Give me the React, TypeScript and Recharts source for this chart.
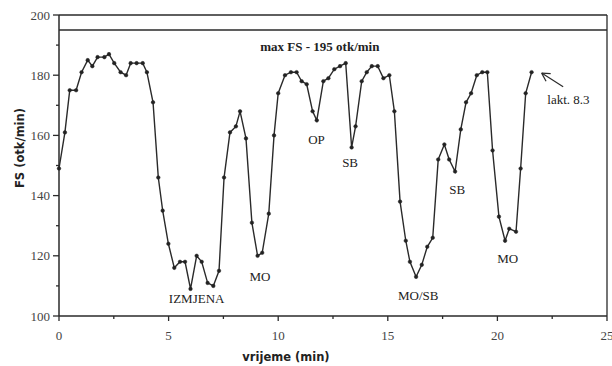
import {
  LineChart,
  Line,
  XAxis,
  YAxis,
  ReferenceLine,
  ReferenceDot,
} from "recharts";

// time (min) and heart rate FS (otk/min)
const TIME = [
  0, 0.27, 0.49, 0.78, 1.03, 1.31, 1.52, 1.76, 2.07, 2.28, 2.52, 2.81, 3.06,
  3.27, 3.54, 3.82, 4.01, 4.29, 4.53, 4.73, 4.99, 5.26, 5.52, 5.75, 6.0, 6.28,
  6.51, 6.78, 7.04, 7.3, 7.53, 7.8, 8.07, 8.26, 8.53, 8.8, 9.06, 9.27, 9.57,
  9.81, 10.0, 10.31, 10.58, 10.84, 11.07, 11.3, 11.57, 11.76, 12.06, 12.29,
  12.56, 12.82, 13.08, 13.35, 13.53, 13.81, 14.04, 14.27, 14.54, 14.8, 15.07,
  15.3, 15.56, 15.82, 16.01, 16.29, 16.55, 16.8, 17.05, 17.3, 17.58, 17.8,
  18.07, 18.33, 18.57, 18.8, 19.06, 19.31, 19.54, 19.78, 20.07, 20.35, 20.54,
  20.85, 21.06, 21.29, 21.56,
];
const FS = [
  149, 161, 175, 175, 181, 185, 183, 186, 186, 187, 184, 181, 180, 184, 184,
  184, 181, 171, 146, 135, 124, 116, 118, 118, 109, 120, 118, 111, 110, 115,
  146, 161, 163, 168, 159, 131, 120, 121, 134, 160, 174, 180, 181, 181, 178,
  177, 168, 165, 178, 179, 182, 183, 184, 156, 163, 178, 181, 183, 183, 179,
  180, 168, 138, 125, 118, 113, 117, 123, 126, 152, 157, 152, 148, 162, 171,
  174, 180, 181, 181, 155, 133, 125, 129, 128, 149, 174, 181,
];

const X_TICKS = [0, 2.5, 5, 7.5, 10, 12.5, 15, 17.5, 20, 22.5, 25];
const Y_TICKS = [100, 110, 120, 130, 140, 150, 160, 170, 180, 190, 200];
const MAX_FS = 195;

// text notes placed in data units (min, otk/min)
const NOTES = [
  { text: "IZMJENA", t: 6.28, v: 106 },
  { text: "MO", t: 9.17, v: 113.3 },
  { text: "OP", t: 11.75, v: 158.7 },
  { text: "SB", t: 13.28, v: 150.9 },
  { text: "MO/SB", t: 16.39, v: 106.8 },
  { text: "SB", t: 18.17, v: 142 },
  { text: "MO", t: 20.47, v: 119 },
  { text: "lakt. 8.3", t: 23.24, v: 172 },
];

const data = TIME.map((t, i) => ({ t, fs: FS[i] }));

const INK = "#2a2a2a";
const SERIF = "'Liberation Serif', 'DejaVu Serif', serif";
const SANS = "'DejaVu Sans', sans-serif";

function XTick({ x, y, payload }: any) {
  const major = payload.value % 5 === 0;
  return (
    <g>
      <line x1={x} y1={y} x2={x} y2={y + (major ? 5 : 3)} stroke={INK} strokeWidth={1.3} />
      {major && (
        <text x={x} y={y + 24} textAnchor="middle" fontFamily={SERIF} fontSize={13} fill="#444">
          {payload.value}
        </text>
      )}
    </g>
  );
}

function YTick({ x, y, payload }: any) {
  const major = payload.value % 20 === 0;
  return (
    <g>
      <line x1={x} y1={y} x2={x - (major ? 6 : 3)} y2={y} stroke={INK} strokeWidth={1.3} />
      {major && (
        <text x={x - 9} y={y} dy="0.35em" textAnchor="end" fontFamily={SERIF} fontSize={13} fill="#444">
          {payload.value}
        </text>
      )}
    </g>
  );
}

export default function App() {
  return (
    <div style={{ position: "absolute", left: 0, top: 0, width: 612, height: 366, background: "#fff" }}>
      <LineChart
        width={612}
        height={366}
        data={data}
        margin={{ top: 15, right: 5, bottom: 0, left: 0 }}
      >
        <XAxis
          dataKey="t"
          type="number"
          domain={[0, 25]}
          ticks={X_TICKS}
          interval={0}
          height={50}
          tickSize={0}
          tickMargin={0}
          tickLine={false}
          tick={(p: any) => <XTick {...p} />}
          axisLine={{ stroke: INK, strokeWidth: 1.5 }}
        />
        <YAxis
          type="number"
          domain={[100, 200]}
          ticks={Y_TICKS}
          interval={0}
          width={59}
          tickSize={0}
          tickMargin={0}
          tickLine={false}
          tick={(p: any) => <YTick {...p} />}
          axisLine={{ stroke: INK, strokeWidth: 1.5 }}
        />
        <ReferenceLine y={200} stroke={INK} strokeWidth={1.3} />
        <ReferenceLine x={25} stroke={INK} strokeWidth={1.3} />
        <ReferenceLine y={MAX_FS} stroke={INK} strokeWidth={1.5} />
        <ReferenceDot
          x={11.9}
          y={189.7}
          r={0}
          stroke="none"
          fill="none"
          label={{
            value: `max FS - ${MAX_FS} otk/min`,
            position: "center",
            fontFamily: SERIF,
            fontSize: 13,
            fontWeight: "bold",
            fill: "#222",
          }}
        />
        {NOTES.map((n, i) => (
          <ReferenceDot
            key={i}
            x={n.t}
            y={n.v}
            r={0}
            stroke="none"
            fill="none"
            label={{
              value: n.text,
              position: "center",
              fontFamily: SERIF,
              fontSize: 13,
              fill: "#222",
            }}
          />
        ))}
        {/* arrow pointing at the last reading */}
        <ReferenceLine
          segment={[
            { x: 23.0, y: 176.2 },
            { x: 22.02, y: 180.7 },
          ]}
          stroke={INK}
          strokeWidth={1.2}
        />
        <ReferenceLine
          segment={[
            { x: 22.02, y: 180.7 },
            { x: 22.22, y: 178.0 },
          ]}
          stroke={INK}
          strokeWidth={1.2}
        />
        <ReferenceLine
          segment={[
            { x: 22.02, y: 180.7 },
            { x: 22.43, y: 180.5 },
          ]}
          stroke={INK}
          strokeWidth={1.2}
        />
        <Line
          type="linear"
          dataKey="fs"
          stroke={INK}
          strokeWidth={1.4}
          dot={{ r: 1.8, fill: "#222", stroke: "#222", strokeWidth: 0.5 }}
          isAnimationActive={false}
        />
      </LineChart>
      <div
        style={{
          position: "absolute",
          left: 20,
          top: 148,
          transform: "translate(-50%, -50%) rotate(-90deg)",
          whiteSpace: "nowrap",
          fontFamily: SANS,
          fontWeight: "bold",
          fontSize: 11.5,
          color: "#222",
        }}
      >
        FS (otk/min)
      </div>
      <div
        style={{
          position: "absolute",
          left: 286,
          top: 357,
          transform: "translate(-50%, -50%)",
          whiteSpace: "nowrap",
          fontFamily: SANS,
          fontWeight: "bold",
          fontSize: 11.5,
          color: "#222",
        }}
      >
        vrijeme (min)
      </div>
    </div>
  );
}
